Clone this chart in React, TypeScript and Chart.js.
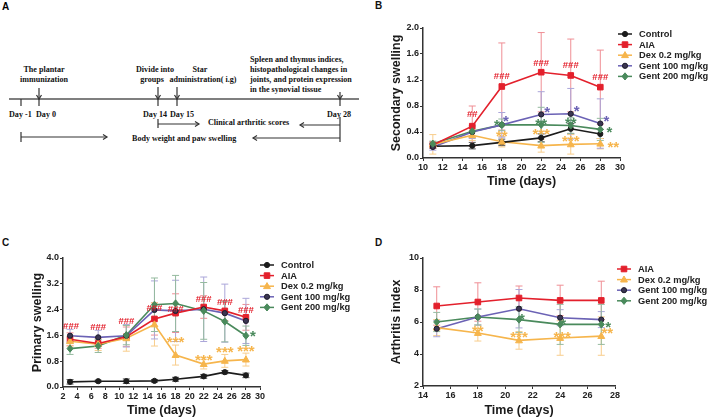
import React, { useEffect, useRef } from 'react';
import { Chart, registerables } from 'chart.js';
Chart.register(...registerables);

const SANS = '"Liberation Sans", Arial, sans-serif';
const SERIF = '"Liberation Serif", "Times New Roman", serif';

// ---------- Panel B: secondary swelling ----------
const bDays = [11, 15, 18, 22, 25, 28];
const bControl = [0.18, 0.19, 0.24, 0.31, 0.45, 0.37];
const bControlErr = [0.03, 0.05, 0.05, 0.06, 0.08, 0.07];
const bAIA = [0.2, 0.49, 1.1, 1.32, 1.27, 1.09];
const bAIAErr = [0.05, 0.31, 0.67, 0.61, 0.56, 0.57];
const bDex = [0.21, 0.35, 0.25, 0.19, 0.21, 0.22];
const bDexErr = [0.15, 0.08, 0.08, 0.1, 0.15, 0.08];
const bG100 = [0.17, 0.4, 0.51, 0.67, 0.68, 0.53];
const bG100Err = [0.05, 0.1, 0.19, 0.35, 0.39, 0.38];
const bG200 = [0.22, 0.41, 0.51, 0.51, 0.5, 0.44];
const bG200Err = [0.04, 0.07, 0.09, 0.27, 0.12, 0.17];

// ---------- Panel C: primary swelling ----------
const cDays = [3, 7, 11, 15, 18, 22, 25, 28];
const cControl = [0.16, 0.18, 0.18, 0.19, 0.24, 0.33, 0.46, 0.36];
const cControlErr = [0.07, 0.03, 0.07, 0.04, 0.06, 0.06, 0.05, 0.07];
const cAIA = [1.48, 1.35, 1.56, 2.11, 2.29, 2.48, 2.36, 2.16];
const cAIAErr = [0.2, 0.15, 0.3, 0.5, 0.6, 0.35, 0.3, 0.4];
const cDex = [1.42, 1.33, 1.51, 1.94, 0.99, 0.71, 0.81, 0.85];
const cDexErr = [0.15, 0.2, 0.4, 0.67, 0.31, 0.15, 0.2, 0.2];
const cG100 = [1.59, 1.54, 1.59, 2.39, 2.36, 2.41, 2.29, 2.05];
const cG100Err = [0.2, 0.22, 0.35, 0.9, 0.95, 1.0, 0.9, 0.7];
const cG200 = [1.19, 1.27, 1.61, 2.55, 2.59, 2.36, 2.03, 1.59];
const cG200Err = [0.18, 0.2, 0.3, 0.83, 0.87, 0.88, 0.63, 0.3];

// ---------- Panel D: arthritis index ----------
const dDays = [15, 18, 21, 24, 27];
const dAIA = [7.0, 7.25, 7.5, 7.35, 7.35];
const dAIAErr = [1.2, 1.2, 0.75, 0.95, 1.2];
const dDex = [5.65, 5.31, 4.85, 5.0, 5.12];
const dDexErr = [0.5, 0.5, 0.55, 1.08, 1.2];
const dG100 = [5.58, 6.31, 6.83, 6.27, 6.15];
const dG100Err = [0.5, 0.5, 1.2, 0.5, 0.5];
const dG200 = [6.0, 6.31, 6.15, 5.85, 5.85];
const dG200Err = [0.6, 0.5, 0.8, 1.25, 1.25];

// significance labels: [series, point index, text]
const bMarks: [string, number, string][] = [
  ['AIA', 1, '##'], ['AIA', 2, '###'], ['AIA', 3, '###'], ['AIA', 4, '###'], ['AIA', 5, '###'],
  ['G100', 2, '*'], ['G100', 3, '*'], ['G100', 4, '*'], ['G100', 5, '*'],
  ['G200', 2, '*'], ['G200', 3, '**'], ['G200', 4, '**'], ['G200', 5, '*'],
  ['Dex', 2, '**'], ['Dex', 3, '***'], ['Dex', 4, '***'], ['Dex', 5, '**'],
];
const bMarkOffsets = [[0, -13], [0, -11], [0, -10], [0, -11], [0, -11], [4, -8], [6, -6], [6, -7], [6, -6], [-5, -4], [0, -5], [0, -6], [9, -1], [0, -9], [0, -15], [0, -7], [13, 0]];

const cMarks: [string, number, string][] = [
  ['AIA', 0, '###'], ['AIA', 1, '###'], ['AIA', 2, '###'], ['AIA', 3, '###'], ['AIA', 4, '###'], ['AIA', 5, '###'], ['AIA', 6, '###'], ['AIA', 7, '###'],
  ['Dex', 4, '***'], ['Dex', 5, '***'], ['Dex', 6, '***'], ['Dex', 7, '***'],
  ['G200', 7, '*'],
];
const cMarkOffsets = [[1, -14], [0, -17], [0, -16], [0, -11], [0, -5], [0, -8], [0, -9], [0, -8], [0, -17], [0, -8], [0, -13], [0, -12], [7, -3]];

const dMarks: [string, number, string][] = [
  ['Dex', 1, '**'], ['Dex', 2, '***'], ['Dex', 3, '***'], ['Dex', 4, '**'],
  ['G200', 2, '*'], ['G200', 3, '*'], ['G200', 4, '*'],
];
const dMarkOffsets = [[0, -6], [0, -7], [2, -5], [6, -7], [3, -4], [3, -4], [7, -1]];

const STYLE: Record<string, any> = {
  Control: { label: 'Control', color: '#1c1c1c', err: '#555555', shape: 'circle', fill: '#1c1c1c', edge: '#1c1c1c', r: 2.6 },
  AIA: { label: 'AIA', color: '#e3202c', err: '#ef8e94', shape: 'rect', fill: '#e3202c', edge: '#e3202c', r: 2.8 },
  Dex: { label: 'Dex 0.2 mg/kg', color: '#f6b54c', err: '#f8cd8c', shape: 'triangle', fill: '#f6b54c', edge: '#f6b54c', r: 3 },
  G100: { label: 'Gent 100 mg/kg', color: '#6b62b5', err: '#aba6d9', shape: 'circle', fill: '#3b3652', edge: '#1d1b2c', r: 2.6 },
  G200: { label: 'Gent 200 mg/kg', color: '#4a8a5c', err: '#95ba9f', shape: 'diamond', fill: '#4a8a5c', edge: '#4a8a5c', r: 3 },
};

function drawMarker(ctx: CanvasRenderingContext2D, s: any, x: number, y: number) {
  const r = s.r;
  ctx.beginPath();
  if (s.shape === 'circle') ctx.arc(x, y, r, 0, Math.PI * 2);
  else if (s.shape === 'rect') ctx.rect(x - r, y - r, 2 * r, 2 * r);
  else if (s.shape === 'triangle') {
    ctx.moveTo(x, y - r * 1.2); ctx.lineTo(x + r * 1.15, y + r * 0.8); ctx.lineTo(x - r * 1.15, y + r * 0.8); ctx.closePath();
  } else {
    ctx.moveTo(x, y - r * 1.2); ctx.lineTo(x + r, y); ctx.lineTo(x, y + r * 1.2); ctx.lineTo(x - r, y); ctx.closePath();
  }
  ctx.fillStyle = s.fill; ctx.fill();
  ctx.strokeStyle = s.edge; ctx.lineWidth = 1; ctx.stroke();
}

const errorBarPlugin = {
  id: 'errorBars',
  beforeDatasetsDraw(chart: any) {
    const { ctx, scales } = chart;
    const x = scales.x, y = scales.y;
    chart.data.datasets.forEach((ds: any) => {
      ctx.save();
      ctx.strokeStyle = ds.errColor; ctx.lineWidth = 1;
      ds.data.forEach((p: any, i: number) => {
        const e = ds.errors[i];
        const px = x.getPixelForValue(p.x);
        const t = y.getPixelForValue(p.y + e), b = y.getPixelForValue(p.y - e);
        ctx.beginPath();
        ctx.moveTo(px, t); ctx.lineTo(px, b);
        ctx.moveTo(px - 3.5, t); ctx.lineTo(px + 3.5, t);
        ctx.moveTo(px - 3.5, b); ctx.lineTo(px + 3.5, b);
        ctx.stroke();
      });
      ctx.restore();
    });
  },
};

const markerPlugin = {
  id: 'customMarkers',
  afterDatasetsDraw(chart: any) {
    const { ctx, scales } = chart;
    chart.data.datasets.forEach((ds: any) => {
      ds.data.forEach((p: any) => drawMarker(ctx, ds.sty, scales.x.getPixelForValue(p.x), scales.y.getPixelForValue(p.y)));
    });
  },
};

const marksPlugin = {
  id: 'sigMarks',
  afterDatasetsDraw(chart: any, _a: any, opts: any) {
    const { ctx, scales } = chart;
    (opts.items || []).forEach((m: any, k: number) => {
      const ds = chart.data.datasets.find((d: any) => d.key === m[0]);
      const p = ds.data[m[1]];
      const off = opts.offsets[k];
      const text = m[2];
      const isHash = text[0] === '#';
      const size = isHash ? 9.5 : 15;
      const cx = scales.x.getPixelForValue(p.x) + off[0];
      const cy = scales.y.getPixelForValue(p.y) + off[1];
      ctx.save();
      ctx.font = `bold ${size}px ${SANS}`;
      ctx.fillStyle = ds.sty.color;
      ctx.textAlign = 'center';
      ctx.textBaseline = 'alphabetic';
      ctx.fillText(text, cx, cy + (isHash ? 0.36 : 0.58) * size);
      ctx.restore();
    });
  },
};

const legendPlugin = {
  id: 'sideLegend',
  afterDraw(chart: any, _a: any, opts: any) {
    const { ctx, chartArea } = chart;
    chart.data.datasets.forEach((ds: any, i: number) => {
      const x0 = chartArea.right + opts.dx;
      const y = chartArea.top + opts.dy + i * 10.6;
      ctx.save();
      ctx.strokeStyle = ds.sty.color; ctx.lineWidth = 1.5;
      ctx.beginPath(); ctx.moveTo(x0, y); ctx.lineTo(x0 + 14, y); ctx.stroke();
      drawMarker(ctx, ds.sty, x0 + 7, y);
      ctx.font = `bold 9.3px ${SANS}`;
      ctx.fillStyle = '#222';
      ctx.textBaseline = 'middle';
      ctx.textAlign = 'left';
      ctx.fillText(ds.label, x0 + 21, y + 0.5);
      ctx.restore();
    });
  },
};

function makeConfig(p: any) {
  const datasets = p.series.map((s: any) => {
    const sty = STYLE[s.key];
    return {
      key: s.key, sty, label: sty.label,
      data: p.days.map((d: number, i: number) => ({ x: d, y: s.values[i] })),
      errors: s.errors, errColor: sty.err,
      borderColor: sty.color, borderWidth: 1.6, pointRadius: 0, tension: 0, fill: false,
    };
  });
  const tickFont = { family: SANS, size: 9, weight: 'bold' as const };
  const titleFont = { family: SANS, size: 12.5, weight: 'bold' as const };
  return {
    type: 'line' as const,
    data: { datasets },
    plugins: [errorBarPlugin, markerPlugin, marksPlugin, legendPlugin],
    options: {
      responsive: false, animation: false as const,
      layout: { padding: p.pad },
      plugins: {
        legend: { display: false }, tooltip: { enabled: false },
        sigMarks: { items: p.marks, offsets: p.offsets },
        sideLegend: { dx: p.legendDx, dy: p.legendDy },
      },
      scales: {
        x: {
          type: 'linear', min: p.xMin, max: p.xMax,
          afterFit: (s: any) => { s.height = p.xHeight; },
          ticks: { stepSize: p.xStep, autoSkip: false, maxRotation: 0, font: tickFont, color: '#222', padding: 1 },
          grid: { drawOnChartArea: false, drawTicks: true, tickLength: 3, color: '#333', lineWidth: 1 },
          border: { display: true, color: '#333', width: 1.5 },
          title: { display: true, text: 'Time (days)', font: titleFont, color: '#1a1a1a', padding: { top: 0, bottom: p.xTitlePad } },
        },
        y: {
          type: 'linear', min: p.yMin, max: p.yMax,
          afterFit: (s: any) => { s.width = p.yWidth; },
          ticks: { stepSize: p.yStep, font: tickFont, color: '#222', padding: 1, callback: (v: number) => v.toFixed(p.yDec) },
          grid: { drawOnChartArea: false, drawTicks: true, tickLength: 3, color: '#333', lineWidth: 1 },
          border: { display: true, color: '#333', width: 1.5 },
          title: { display: true, text: p.yTitle, font: titleFont, color: '#1a1a1a', padding: { top: p.yTitlePad, bottom: 0 } },
        },
      },
    },
  };
}

function LineChart({ params, left, top, width, height }: any) {
  const ref = useRef<HTMLCanvasElement>(null);
  useEffect(() => {
    const chart = new Chart(ref.current as HTMLCanvasElement, makeConfig(params) as any);
    return () => chart.destroy();
  }, []);
  return <canvas ref={ref} width={width} height={height} style={{ position: 'absolute', left, top, width, height }} />;
}

const bParams = {
  days: bDays,
  series: [
    { key: 'Control', values: bControl, errors: bControlErr },
    { key: 'AIA', values: bAIA, errors: bAIAErr },
    { key: 'Dex', values: bDex, errors: bDexErr },
    { key: 'G100', values: bG100, errors: bG100Err },
    { key: 'G200', values: bG200, errors: bG200Err },
  ],
  xMin: 10, xMax: 30, xStep: 2, yMin: 0, yMax: 2, yStep: 0.4, yDec: 1,
  yTitle: 'Secondary swelling',
  pad: { left: 0, top: 28, right: 88, bottom: 0 }, yWidth: 68, xHeight: 52,
  yTitlePad: 34, xTitlePad: 21, marks: bMarks, offsets: bMarkOffsets, legendDx: -2, legendDy: 6,
};

const cParams = {
  days: cDays,
  series: [
    { key: 'Control', values: cControl, errors: cControlErr },
    { key: 'AIA', values: cAIA, errors: cAIAErr },
    { key: 'Dex', values: cDex, errors: cDexErr },
    { key: 'G100', values: cG100, errors: cG100Err },
    { key: 'G200', values: cG200, errors: cG200Err },
  ],
  xMin: 2, xMax: 30, xStep: 2, yMin: 0, yMax: 4, yStep: 0.8, yDec: 1,
  yTitle: 'Primary swelling',
  pad: { left: 0, top: 48, right: 94, bottom: 0 }, yWidth: 63, xHeight: 31,
  yTitlePad: 30, xTitlePad: 0, marks: cMarks, offsets: cMarkOffsets, legendDx: 0, legendDy: 7,
};

const dParams = {
  days: dDays,
  series: [
    { key: 'AIA', values: dAIA, errors: dAIAErr },
    { key: 'Dex', values: dDex, errors: dDexErr },
    { key: 'G100', values: dG100, errors: dG100Err },
    { key: 'G200', values: dG200, errors: dG200Err },
  ],
  xMin: 14, xMax: 28, xStep: 2, yMin: 2, yMax: 10, yStep: 2, yDec: 0,
  yTitle: 'Arthritis index',
  pad: { left: 0, top: 48, right: 93, bottom: 0 }, yWidth: 68, xHeight: 32,
  yTitlePad: 34, xTitlePad: 0, marks: dMarks, offsets: dMarkOffsets, legendDx: 2, legendDy: 11,
};

function Timeline() {
  const st = { fontFamily: SERIF, fontWeight: 'bold' as const, fontSize: 8.1, fill: '#111' };
  const line = { stroke: '#333', strokeWidth: 1.2, fill: 'none' };
  const down = (x: number, y0: number) => (
    <g key={'d' + x}>
      <line x1={x} y1={y0} x2={x} y2={106} {...line} />
      <polyline points={`${x - 2.5},${95} ${x},${99} ${x + 2.5},${95}`} {...line} />
    </g>
  );
  return (
    <svg width={360} height={210} style={{ position: 'absolute', left: 0, top: 0 }}>
      <text x={2} y={10} style={{ fontFamily: SANS, fontWeight: 'bold', fontSize: 10 }}>A</text>
      <line x1={9} y1={99} x2={359} y2={99} stroke="#555" strokeWidth={1.6} />
      <line x1={21} y1={99} x2={21} y2={106} {...line} />
      {down(39, 88)}
      {down(158, 87)}
      {down(177, 87)}
      {down(340, 92)}
      <text x={44} y={72} textAnchor="middle" style={st}>The plantar</text>
      <text x={44} y={82} textAnchor="middle" style={st}>immunization</text>
      <text x={155} y={72} textAnchor="middle" style={st}>Divide into</text>
      <text x={152} y={82} textAnchor="middle" style={st}>groups</text>
      <text x={200} y={72} textAnchor="middle" style={st}>Star</text>
      <text x={203} y={82} textAnchor="middle" style={st}>administration( i.g)</text>
      <text x={250} y={62} style={st}>Spleen and thymus indices,</text>
      <text x={250} y={72} style={st}>histopathological changes in</text>
      <text x={250} y={82} style={st}>joints, and protein expression</text>
      <text x={250} y={92} style={st}>in the synovial tissue</text>
      <text x={9} y={117} style={st}>Day -1</text>
      <text x={36} y={117} style={st}>Day 0</text>
      <text x={143} y={117} style={st}>Day 14</text>
      <text x={170} y={117} style={st}>Day 15</text>
      <text x={327} y={117} style={st}>Day 28</text>
      {/* clinical arthritic scores row */}
      <line x1={158} y1={119} x2={158} y2={128} {...line} />
      <line x1={158} y1={124} x2={199} y2={124} {...line} />
      <polyline points="195,121.5 199,124 195,126.5" {...line} />
      <text x={208} y={125} style={st}>Clinical arthritic scores</text>
      <line x1={340} y1={117} x2={340} y2={142} {...line} />
      <line x1={300} y1={125} x2={340} y2={125} {...line} />
      <polyline points="304,122.5 300,125 304,127.5" {...line} />
      {/* body weight row */}
      <line x1={21} y1={132} x2={21} y2={142} {...line} />
      <line x1={21} y1={137} x2={107} y2={137} {...line} />
      <polyline points="103,134.5 107,137 103,139.5" {...line} />
      <text x={132} y={141} style={st}>Body weight and paw swelling</text>
      <line x1={253} y1={138} x2={340} y2={138} {...line} />
      <polyline points="257,135.5 253,138 257,140.5" {...line} />
    </svg>
  );
}

const letter = { position: 'absolute' as const, fontFamily: SANS, fontWeight: 'bold' as const, fontSize: 10, lineHeight: '10px', color: '#111' };

export default function App() {
  return (
    <div style={{ position: 'fixed', left: 0, top: 0, width: 708, height: 418, background: '#fff', overflow: 'hidden' }}>
      <Timeline />
      <div style={{ ...letter, left: 375, top: 1 }}>B</div>
      <div style={{ ...letter, left: 2, top: 238 }}>C</div>
      <div style={{ ...letter, left: 375, top: 238 }}>D</div>
      <LineChart params={bParams} left={355} top={0} width={353} height={210} />
      <LineChart params={cParams} left={0} top={210} width={354} height={208} />
      <LineChart params={dParams} left={355} top={210} width={353} height={208} />
    </div>
  );
}
